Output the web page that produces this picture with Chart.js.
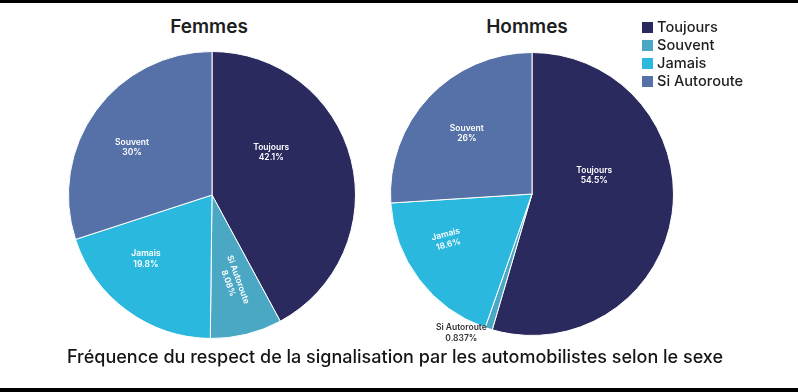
<!DOCTYPE html>
<html>
<head>
<meta charset="utf-8">
<script src="https://cdn.jsdelivr.net/npm/chart.js@4"></script>
<style>
  html, body { margin:0; padding:0; background:#fff; }
  #wrap { position:relative; width:798px; height:392px; overflow:hidden; background:#fff; font-family:"Inter","Noto Sans",sans-serif; }
  .bar { position:absolute; left:0; width:798px; background:#000; }
  canvas { position:absolute; }
  .ptitle { position:absolute; top:15px; font-size:19px; font-weight:600; color:#1e1e1e; transform:translateX(-50%); white-space:nowrap; }
  #legend { position:absolute; left:642px; top:18px; z-index:5; }
  .li { height:18px; display:flex; align-items:center; font-size:14.6px; font-weight:500; color:#1e1e1e; }
  .sw { width:11px; height:11px; margin-right:4px; }
  #foot { position:absolute; top:346px; left:0; width:790px; text-align:center; font-size:18px; font-weight:500; color:#151515; white-space:nowrap; }
</style>
</head>
<body>
<div id="wrap">
  <div class="bar" style="top:0;height:3px"></div>
  <div class="bar" style="top:388px;height:4px"></div>
  <div class="ptitle" style="left:209px">Femmes</div>
  <div class="ptitle" style="left:527px">Hommes</div>
  <canvas id="cF" width="360" height="360" style="left:32px;top:15px"></canvas>
  <canvas id="cH" width="360" height="360" style="left:352px;top:14px"></canvas>
  <div id="legend"></div>
  <div id="foot">Fréquence du respect de la signalisation par les automobilistes selon le sexe</div>
</div>
<script>
// ---- data ----
const sliceLabels = ["Toujours", "Si Autoroute", "Jamais", "Souvent"];
const femmesValues = [42.1, 8.08, 19.8, 30];
const hommesValues = [54.5, 0.837, 18.6, 26];
const legendLabels = ["Toujours", "Souvent", "Jamais", "Si Autoroute"];
const chartTitle = "Fréquence du respect de la signalisation par les automobilistes selon le sexe";

// ---- styles ----
const sliceColors = ["#2b2a5e", "#4ba8c4", "#2bb8de", "#5571a8"];
const legendColors = ["#2b2a5e", "#4ba8c4", "#2bb8de", "#5571a8"];
// label placement (angle from top clockwise in degrees, fraction of radius, rotation deg, color)
const femmesPlace = [
  {a:54, f:0.51, r:0, c:"#fff"},
  {a:166, f:0.62, r:70, c:"#fff"},
  {a:226, f:0.64, r:0, c:"#fff"},
  {a:301, f:0.65, r:0, c:"#fff"}
];
const hommesPlace = [
  {a:73, f:0.46, r:0, c:"#fff"},
  {a:207, f:1.10, r:0, c:"#333"},
  {a:242, f:0.68, r:-15, c:"#fff"},
  {a:313, f:0.63, r:0, c:"#fff"}
];

document.getElementById('legend').innerHTML = legendLabels.map((l,i)=>
  `<div class="li"><span class="sw" style="background:${legendColors[i]}"></span>${l}</div>`).join('');
document.getElementById('foot').textContent = chartTitle;

const sliceLabelPlugin = {
  id:'sliceLabels',
  afterDatasetsDraw(chart, args, opts) {
    const ctx = chart.ctx;
    const meta = chart.getDatasetMeta(0);
    const vals = chart.data.datasets[0].data;
    meta.data.forEach((arc, i) => {
      const p = opts.place[i];
      const ang = (p.a - 90) * Math.PI / 180;
      const x = arc.x + Math.cos(ang) * arc.outerRadius * p.f;
      const y = arc.y + Math.sin(ang) * arc.outerRadius * p.f;
      ctx.save();
      ctx.translate(x, y);
      ctx.rotate(p.r * Math.PI / 180);
      ctx.fillStyle = p.c;
      ctx.font = '600 8.5px Inter, "Noto Sans", sans-serif';
      ctx.textAlign = 'center';
      ctx.textBaseline = 'middle';
      ctx.fillText(chart.data.labels[i], 0, -5);
      ctx.fillText(String(vals[i]) + '%', 0, 5.5);
      ctx.restore();
    });
  }
};

function makePie(id, values, place, pad) {
  return new Chart(document.getElementById(id), {
    type:'pie',
    data:{ labels: sliceLabels, datasets:[{ data: values, backgroundColor: sliceColors, borderColor:'#ffffff', borderWidth:1 }] },
    options:{
      responsive:false, animation:false,
      layout:{ padding: pad },
      plugins:{ legend:{display:false}, tooltip:{enabled:false}, title:{display:false}, sliceLabels:{ place } }
    },
    plugins:[sliceLabelPlugin]
  });
}
makePie('cF', femmesValues, femmesPlace, 36);
makePie('cH', hommesValues, hommesPlace, 38);
</script>
</body>
</html>
